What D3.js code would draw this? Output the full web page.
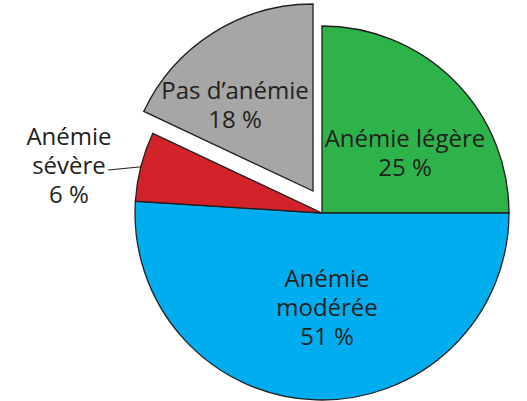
<!DOCTYPE html>
<html>
<head>
<meta charset="utf-8">
<script src="https://cdn.jsdelivr.net/npm/d3@7"></script>
<style>
  html, body { margin: 0; padding: 0; background: #fff; }
  svg text { font-family: "Open Sans", "Noto Sans", sans-serif; fill: #231f20; }
</style>
</head>
<body>
<div id="chart"></div>
<script>
// slices, clockwise from 12 o'clock
const categories = ["Anémie légère", "Anémie modérée", "Anémie sévère", "Pas d'anémie"];
const labelLines = [["Anémie légère"], ["Anémie", "modérée"], ["Anémie", "sévère"], ["Pas d\u2019anémie"]];
const values = [25, 51, 6, 18];
const colors = ["#2db34a", "#00aeef", "#d2232a", "#a6a6a6"];

const width = 527, height = 401;
const cx = 322, cy = 213, radius = 187;

// label anchor (centre of first baseline) relative to the pie centre
const labelPos = [[83, -66], [5, 74], [-253, -68], [-87, -114]];
const lineGap = 29;

const svg = d3.select("#chart").append("svg")
  .attr("width", width)
  .attr("height", height);

const g = svg.append("g")
  .attr("transform", `translate(${cx}, ${cy})`);

const pie = d3.pie().sort(null).value(d => d);
const arc = d3.arc().innerRadius(0).outerRadius(radius);
const arcs = pie(values);

// pulled-out slice
const explode = i => i === 3 ? [-9, -22] : [0, 0];

g.selectAll("path.slice")
  .data(arcs)
  .enter()
  .append("path")
  .attr("class", "slice")
  .attr("transform", (d, i) => `translate(${explode(i)})`)
  .attr("fill", (d, i) => colors[i])
  .attr("stroke", "#231f20")
  .attr("stroke-width", 1.3)
  .attr("stroke-linejoin", "miter")
  .attr("d", arc);

// leader line for the small red slice
const red = arcs[2];
const redMid = (red.startAngle + red.endAngle) / 2;
const edge = [Math.sin(redMid) * (radius - 1), -Math.cos(redMid) * (radius - 1)];
g.append("line")
  .attr("x1", -214).attr("y1", -43)
  .attr("x2", edge[0]).attr("y2", edge[1])
  .attr("stroke", "#231f20")
  .attr("stroke-width", 1.2);

// labels
const labels = g.selectAll("text.lbl")
  .data(arcs)
  .enter()
  .append("text")
  .attr("class", "lbl")
  .attr("text-anchor", "middle")
  .attr("font-size", 24)
  .attr("x", (d, i) => labelPos[i][0])
  .attr("y", (d, i) => labelPos[i][1]);

labels.each(function(d, i) {
  const t = d3.select(this);
  const lines = labelLines[i].concat([values[i] + " %"]);
  lines.forEach((s, k) => {
    t.append("tspan")
      .attr("x", labelPos[i][0])
      .attr("dy", k === 0 ? 0 : lineGap)
      .text(s);
  });
});
</script>
</body>
</html>
